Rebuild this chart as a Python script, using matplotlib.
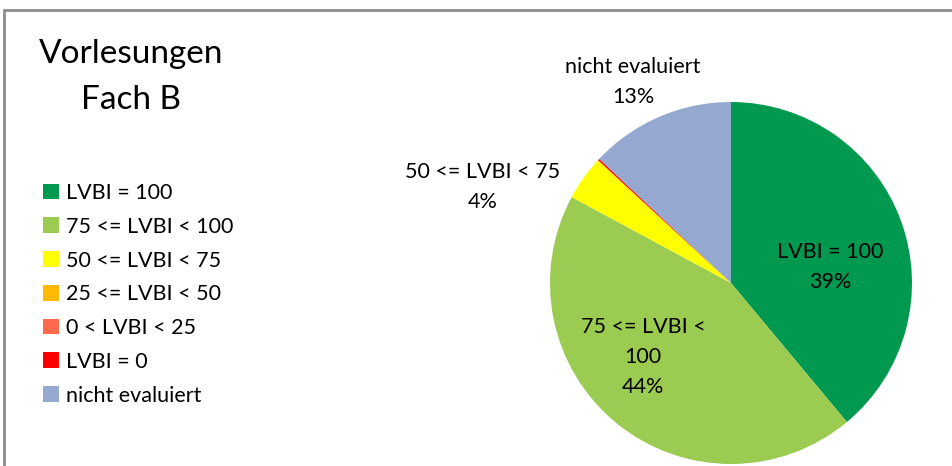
import matplotlib
matplotlib.use("Agg")
import matplotlib.pyplot as plt
from matplotlib.patches import Rectangle

categories = ["LVBI = 100", "75 <= LVBI < 100", "50 <= LVBI < 75", "25 <= LVBI < 50",
              "0 < LVBI < 25", "LVBI = 0", "nicht evaluiert"]
values = [39, 44, 4, 0, 0, 0.15, 13]
pct_labels = ["39%", "44%", "4%", "", "", "", "13%"]
slice_texts = ["LVBI = 100", "75 <= LVBI <\n100", "50 <= LVBI < 75", "", "", "", "nicht evaluiert"]
colors = ["#00994F", "#9BCB50", "#FFFF00", "#FFB900", "#FF6A4D", "#FF0000", "#95A9D0"]
title = "Vorlesungen\nFach B"

W, H = 953, 466
fig = plt.figure(figsize=(W / 100, H / 100), dpi=100)
ax = fig.add_axes([0, 0, 1, 1])

font = "Lato"
fs = 15.5
cx, cy, r = 731, H - 283, 181

wedges, _ = ax.pie(values, colors=colors, startangle=90, counterclock=False,
                   center=(cx, cy), radius=r, frame=True,
                   wedgeprops=dict(linewidth=0))
ax.set_xlim(0, W)
ax.set_ylim(0, H)
ax.set_aspect("equal")
ax.axis("off")

# slice labels (positions in pixel coords of the reference)
label_pos = {0: (830, 267), 1: (643, 357), 2: (483, 187), 6: (633, 82)}
for i, (x, y) in label_pos.items():
    ax.text(x, H - y, slice_texts[i] + "\n" + pct_labels[i], ha="center", va="center",
            fontsize=fs, family=font, linespacing=1.6, color="black")

ax.text(131, H - 77, title, ha="center", va="center", fontsize=24, family=font,
        linespacing=1.68)

leg = fig.legend(wedges, categories, loc="upper left", bbox_to_anchor=(43 / W, 1 - 183 / H),
                 frameon=False, prop={"family": font, "size": fs},
                 handlelength=0.75, handleheight=0.75, handletextpad=0.3,
                 labelspacing=0.64, borderpad=0, borderaxespad=0)

fig.patches.append(Rectangle((4 / W, -0.1), 1.2, (H - 10) / H + 0.1, transform=fig.transFigure,
                             fill=False, edgecolor="#8c8c8c", linewidth=2, figure=fig))

fig.savefig("out.png", dpi=100, facecolor="white")
